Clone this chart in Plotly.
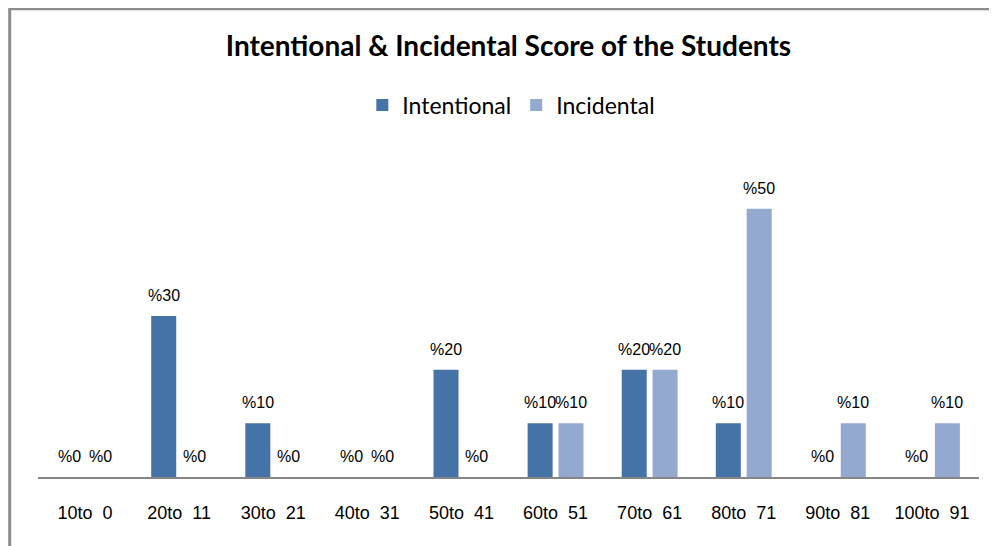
import plotly.graph_objects as go

categories = ["10to\u00a0\u00a00", "20to\u00a0\u00a011", "30to\u00a0\u00a021", "40to\u00a0\u00a031", "50to\u00a0\u00a041",
              "60to\u00a0\u00a051", "70to\u00a0\u00a061", "80to\u00a0\u00a071", "90to\u00a0\u00a081", "100to\u00a0\u00a091"]
intentional = [0, 30, 10, 0, 20, 10, 20, 10, 0, 0]
incidental = [0, 0, 0, 0, 0, 10, 20, 50, 10, 10]

series = [("Intentional", intentional, "#4572A7", -1), ("Incidental", incidental, "#93A9CF", 1)]

fig = go.Figure()
annotations = []
for name, vals, color, side in series:
    fig.add_trace(go.Bar(x=categories, y=vals, name=name, marker=dict(color=color, line=dict(width=0))))
    for c, v in zip(categories, vals):
        annotations.append(dict(x=c, y=v, text=f"%{v}", showarrow=False, xref="x", yref="y",
                                xshift=side * 15.5, yshift=10, yanchor="bottom", xanchor="center",
                                font=dict(family="Liberation Sans, Arial, sans-serif", size=16, color="#000000")))

L, T, W, H = 30, 147, 941, 322

fig.update_layout(
    width=997, height=546,
    margin=dict(l=L, r=997 - L - W, t=T, b=546 - T - H),
    paper_bgcolor="white", plot_bgcolor="white",
    barmode="group", bargap=0.344, bargroupgap=0.19,
    title=dict(text="<b>Intentional & Incidental Score of the Students</b>",
               x=0.5, xref="paper", xanchor="center", y=1 - 38 / 546, yref="container", yanchor="middle",
               font=dict(family="Lato, sans-serif", size=28, color="#000000")),
    legend=dict(orientation="h", x=0.503, xanchor="center", y=(T + H - 97) / H, yanchor="middle",
                font=dict(family="Lato, sans-serif", size=23, color="#000000"),
                bgcolor="rgba(0,0,0,0)", traceorder="normal"),
    annotations=annotations,
    xaxis=dict(showline=True, linecolor="#868686", linewidth=2, ticks="", showgrid=False,
               tickfont=dict(family="Liberation Sans, Arial, sans-serif", size=18, color="#000000"),
               ticklabelstandoff=18, fixedrange=True),
    yaxis=dict(range=[0, 60], visible=False, showgrid=False, fixedrange=True),
    shapes=[dict(type="rect", xref="paper", yref="paper",
                 x0=(1.7 - L) / W, x1=(1010 - L) / W,
                 y0=(T + H - 600) / H, y1=(T + H - 0.8) / H,
                 line=dict(color="#8c8c8c", width=3), fillcolor="rgba(0,0,0,0)", layer="below")],
)

fig.write_html("out.html")
